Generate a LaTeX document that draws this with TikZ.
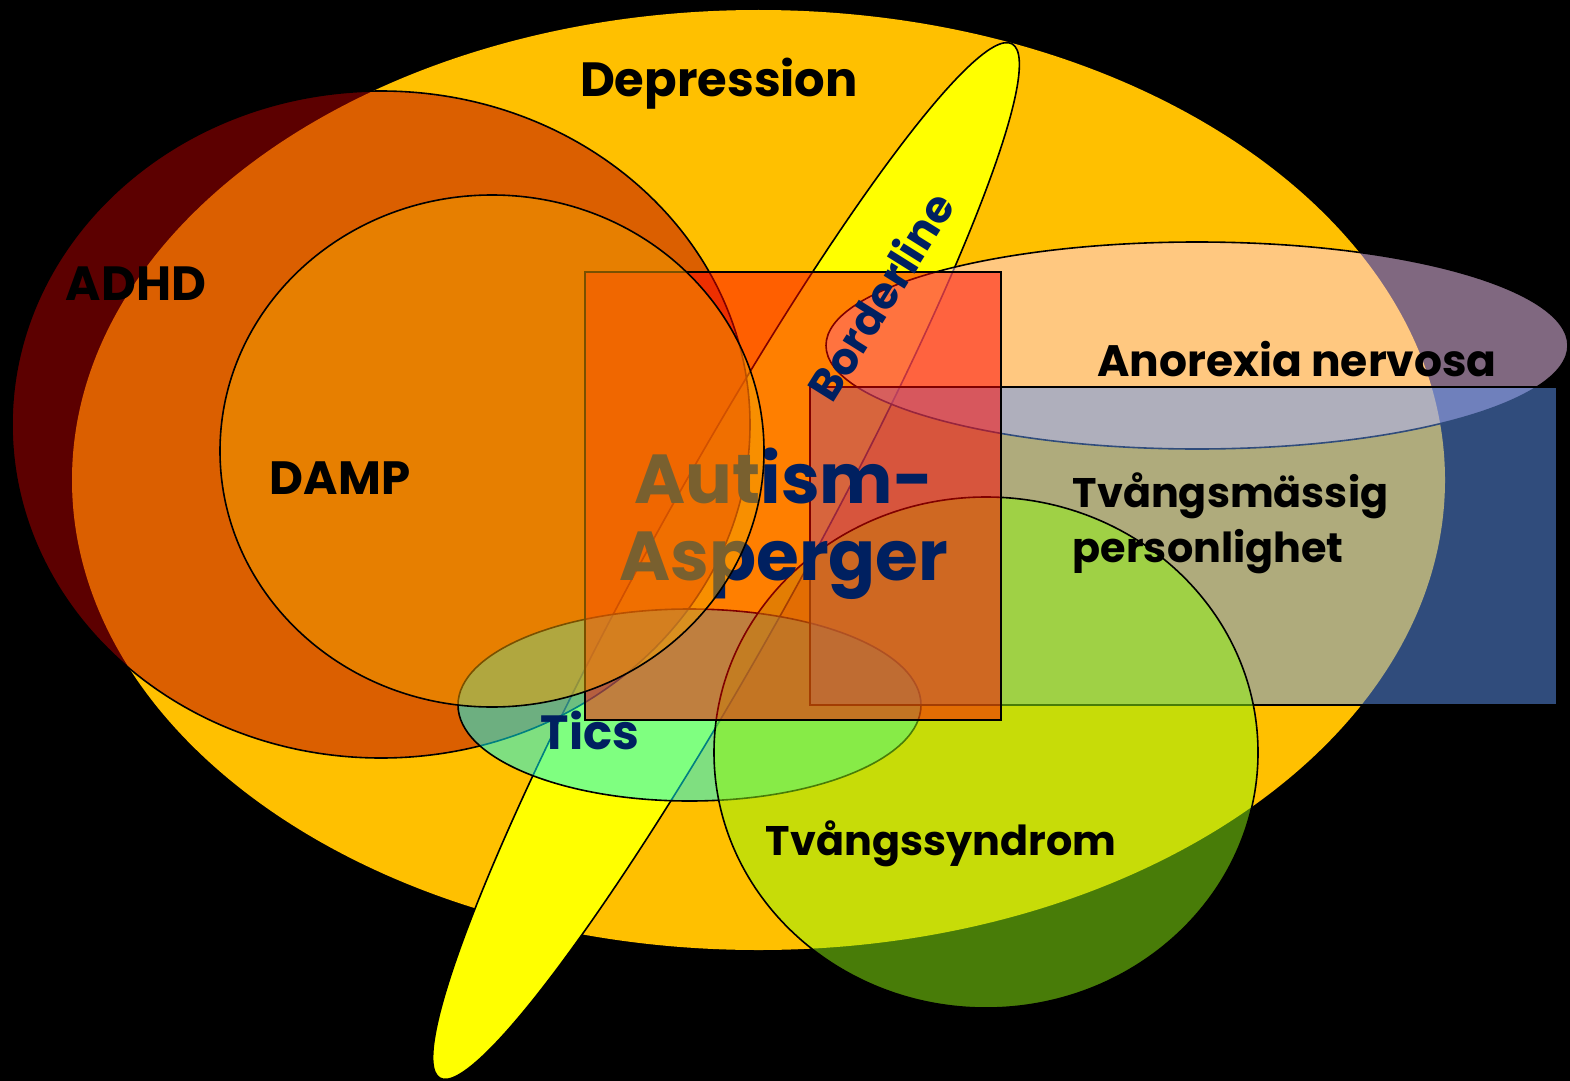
\documentclass[tikz,border=0pt]{standalone}
\usepackage{fontspec}
\setmainfont{Poppins}
\usepackage{tikz}

\begin{document}
\begin{tikzpicture}[x=0.75pt,y=0.75pt,yscale=-1,xscale=1,
  outline/.style={draw={rgb, 255:red, 0; green, 0; blue, 0 }, line width=1.2},
  half/.style={outline, fill opacity=0.5},
  lbl/.style={font=\bfseries\fontsize{#1}{41}\selectfont, text={rgb, 255:red, 0; green, 0; blue, 0 }},
  lbl/.default=36,
  navylbl/.style={lbl=#1, text={rgb, 255:red, 0; green, 32; blue, 96 }},
  navylbl/.default=36,
  biglbl/.style={font=\bfseries\fontsize{52}{58}\selectfont, text={rgb, 255:red, 0; green, 32; blue, 96 }}
]
%uncomment if require: \path (0,1081); %set diagram left start at 0, and has height of 1081
\path [use as bounding box, fill={rgb, 255:red, 0; green, 0; blue, 0 }] (0,0) rectangle (1570,1081);

%Shape: Ellipse [id:dp2837461902734615] 
\fill [fill={rgb, 255:red, 255; green, 192; blue, 0 }] (758.5,480) ellipse (686.5 and 470);
%Shape: Ellipse [id:dp9051726384019273] 
\draw [outline, fill={rgb, 255:red, 255; green, 255; blue, 0 }, rotate around={-61.05:(726,561)}] (726,561) ellipse (591 and 74);
%Shape: Ellipse [id:dp4718290365518204] 
\draw [half, fill={rgb, 255:red, 184; green, 0; blue, 0 }] (381,424.5) ellipse (369 and 333.5);
%Shape: Ellipse [id:dp6620183947512036] 
\draw [half, fill={rgb, 255:red, 0; green, 255; blue, 255 }] (689.5,705) ellipse (231.5 and 96);
%Shape: Ellipse [id:dp1385092746620517] 
\draw [half, fill={rgb, 255:red, 255; green, 208; blue, 255 }] (1197,345.5) ellipse (371 and 103.5);
%Shape: Rectangle [id:dp7702931548261093] 
\draw [half, fill={rgb, 255:red, 96; green, 152; blue, 248 }] (810,387) -- (1557,387) -- (1557,705) -- (810,705) -- cycle ;
%Shape: Ellipse [id:dp3349817265091840] 
\draw [half, fill={rgb, 255:red, 144; green, 248; blue, 16 }] (986,752.5) ellipse (272 and 255.5);
%Shape: Rectangle [id:dp5528193047716321] 
\draw [half, fill={rgb, 255:red, 255; green, 0; blue, 0 }] (585,272) -- (1001,272) -- (1001,720) -- (585,720) -- cycle ;

% Text Node
\draw (784,524) node (autism) [biglbl, align=center] {Autism-\\Asperger};

%Shape: Ellipse [id:dp8164402957731158] 
\draw [half, fill={rgb, 255:red, 243; green, 160; blue, 0 }] (492,451) ellipse (272 and 256);

% Text Node
\draw (719,97) node (depression) [lbl, anchor=base] {Depression};
% Text Node
\draw (136,300) node (adhd) [lbl, anchor=base] {ADHD};
% Text Node
\draw (340,494) node (damp) [lbl=35, anchor=base] {DAMP};
% Text Node
\draw (880,296) node (borderline) [navylbl=33, rotate=58] {Borderline};
% Text Node
\draw (1297,376) node (anorexia) [lbl=33, anchor=base] {Anorexia nervosa};
% Text Node
\draw (1068,523) node (tvangsmassig) [lbl=31, anchor=west, align=left] {Tvångsmässig\\personlighet};
% Text Node
\draw (590,749) node (tics) [navylbl, anchor=base] {Tics};
% Text Node
\draw (941,855) node (tvangssyndrom) [lbl=31, anchor=base] {Tvångssyndrom};
\end{tikzpicture}
\end{document}
